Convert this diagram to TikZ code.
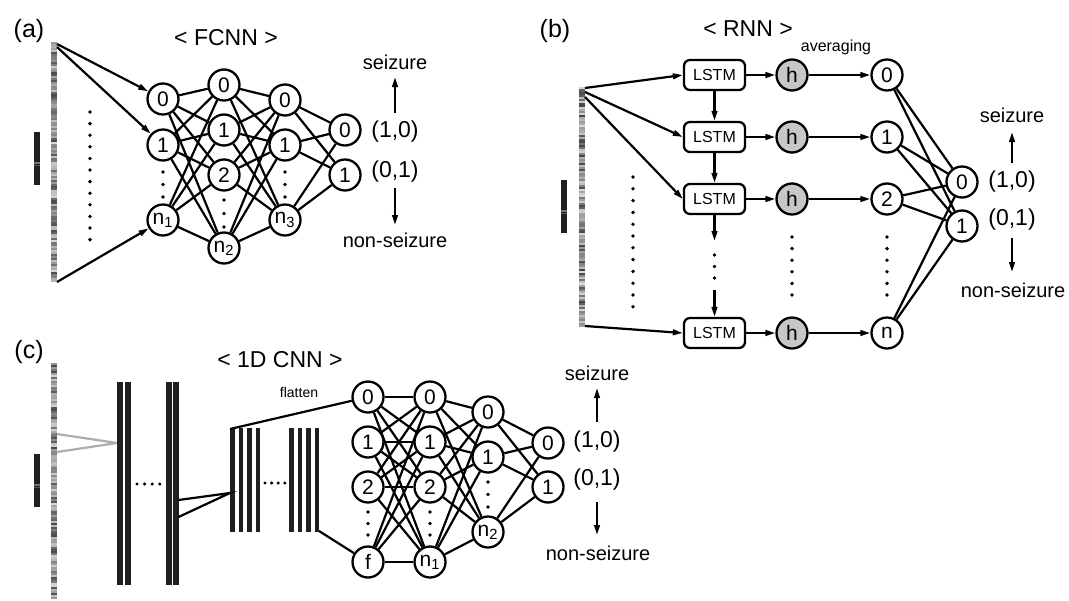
\documentclass[tikz,border=0pt]{standalone}
\usepackage{fontspec}
\setmainfont{Liberation Sans}
\usetikzlibrary{arrows.meta}

% striped EEG-like input strip: x, top, bottom
\newcommand\eegstrip[3]{%
  \pgfmathtruncatemacro\nst{(#3-#2)/2-1}%
  \foreach \k in {0,...,\nst}{%
    \pgfmathrandominteger\g{15}{72}%
    \fill[black!\g] (#1,#2+2*\k) rectangle (#1+6,#2+2*\k+2);}}
% dark marker bar beside a strip: x, top, bottom
\newcommand\markbar[3]{%
  \fill[black!88] (#1,#2) rectangle (#1+6,#3);
  \fill[black!55] (#1,{#2+0.57*(#3-#2)}) rectangle (#1+6,{#2+0.57*(#3-#2)+2});
  \fill[black!65] (#1,{#2+0.63*(#3-#2)}) rectangle (#1+6,{#2+0.63*(#3-#2)+1});}
% vertical column of dots: x, first y, step, count
\newcommand\dotcol[4]{%
  \foreach \k in {1,...,#4}{\fill (#1,{#2+(\k-1)*#3}) circle[radius=0.95pt];}}
\newcommand\dotrow[4]{%
  \foreach \k in {1,...,#4}{\fill ({#1+(\k-1)*#3},#2) circle[radius=0.85pt];}}

\begin{document}
\begin{tikzpicture}[x=0.5pt,y=-0.5pt,
  neuron/.style={circle,draw,line width=1.15pt,minimum size=15.5pt,inner sep=0pt,
    font=\fontsize{10.5}{11}\selectfont},
  hid/.style={neuron,fill=black!22},
  cell/.style={draw,rounded corners=3pt,line width=1.15pt,minimum width=30.5pt,
    minimum height=15pt,inner sep=0pt,font=\fontsize{8}{9}\selectfont},
  link/.style={line width=1.1pt},
  arr/.style={line width=1.1pt,-{Triangle[length=5pt,width=2.8pt]}},
  panel/.style={font=\fontsize{12.5}{13}\selectfont,inner sep=0pt},
  heading/.style={font=\fontsize{11.5}{12}\selectfont,inner sep=0pt},
  cls/.style={font=\fontsize{10}{11}\selectfont,inner sep=0pt},
  code/.style={font=\fontsize{11.5}{12}\selectfont,inner sep=0pt},
  note/.style={font=\fontsize{7}{8}\selectfont,inner sep=0pt},
  bar/.style={fill=black!88}
]
\useasboundingbox (0,0) rectangle (1069,600);
\fill[white] (0,0) rectangle (1069,600);
\pgfmathsetseed{4}

% ---------------- (a) fully connected network ----------------
\node[panel] (pa) at (29,31) {(a)};
\node[heading] (ta) at (226,38) {< FCNN >};
\eegstrip{51}{42}{283}
\markbar{34}{132}{185}
\coordinate (ia0) at (57,44);
\coordinate (ia1) at (57,47);
\coordinate (ia2) at (57,282);
\dotcol{90}{112}{11.6}{12}

\node[neuron] (a10) at (163,99) {0};
\node[neuron] (a11) at (163,145) {1};
\node[neuron] (a1n) at (163,220) {n\textsubscript{1}};
\dotcol{163}{172}{12.5}{3}
\node[neuron] (a20) at (224,85) {0};
\node[neuron] (a21) at (224,130) {1};
\node[neuron] (a22) at (224,175) {2};
\node[neuron] (a2n) at (224,248) {n\textsubscript{2}};
\dotcol{224}{200}{13.5}{3}
\node[neuron] (a30) at (285,100) {0};
\node[neuron] (a31) at (285,145) {1};
\node[neuron] (a3n) at (285,220) {n\textsubscript{3}};
\dotcol{285}{172}{12.5}{3}
\node[neuron] (a40) at (345,130) {0};
\node[neuron] (a41) at (345,175) {1};

\draw[arr] (ia0) -- (a10);
\draw[arr] (ia1) -- (a11);
\draw[arr] (ia2) -- (a1n);
\foreach \s in {a10,a11,a1n}
  \foreach \t in {a20,a21,a22,a2n} \draw[link] (\s) -- (\t);
\foreach \s in {a20,a21,a22,a2n}
  \foreach \t in {a30,a31,a3n} \draw[link] (\s) -- (\t);
\foreach \s in {a30,a31,a3n}
  \foreach \t in {a40,a41} \draw[link] (\s) -- (\t);

\node[cls] (sza) at (395,62) {seizure};
\node[code] (ya0) at (395,132) {(1,0)};
\node[code] (ya1) at (395,172) {(0,1)};
\node[cls] (nsa) at (395,240) {non-seizure};
\coordinate (ua0) at (395,113); \coordinate (ua1) at (395,77);
\coordinate (da0) at (395,188); \coordinate (da1) at (395,225);
\draw[arr] (ua0) -- (ua1);
\draw[arr] (da0) -- (da1);

% ---------------- (b) recurrent network ----------------
\node[panel] (pb) at (555,31) {(b)};
\node[heading] (tb) at (748,29) {< RNN >};
\node[note,font=\fontsize{8}{9}\selectfont] (avg) at (836,47) {averaging};
\eegstrip{579}{87}{327}
\markbar{561}{180}{233}
\coordinate (ib0) at (585,88);
\coordinate (ib1) at (585,92);
\coordinate (ib2) at (585,97);
\coordinate (ib3) at (585,326);
\dotcol{633}{177}{11.8}{12}

\node[cell] (l1) at (714.5,75) {LSTM};
\node[cell] (l2) at (714.5,137) {LSTM};
\node[cell] (l3) at (714.5,199) {LSTM};
\node[cell] (l4) at (714.5,333) {LSTM};
\node[hid] (h1) at (792,75) {h};
\node[hid] (h2) at (792,137) {h};
\node[hid] (h3) at (792,199) {h};
\node[hid] (h4) at (792,333) {h};
\node[neuron] (o0) at (887,75) {0};
\node[neuron] (o1) at (887,137) {1};
\node[neuron] (o2) at (887,199) {2};
\node[neuron] (on) at (887,333) {n};
\node[neuron] (r0) at (962,182) {0};
\node[neuron] (r1) at (962,226) {1};
\dotcol{792}{237}{11.6}{6}
\dotcol{887}{237}{11.6}{6}
\dotcol{714.5}{255}{11.5}{3}

\draw[arr] (ib0) -- (l1.west);
\draw[arr] (ib1) -- (l2.west);
\draw[arr] (ib2) -- (l3.west);
\draw[arr] (ib3) -- (l4.west);
\draw[arr] (l1) -- (l2);
\draw[arr] (l2) -- (l3);
\coordinate (lm0) at (714.5,241);
\coordinate (lm1) at (714.5,290);
\draw[arr] (l3) -- (lm0);
\draw[arr] (lm1) -- (l4);
\foreach \i in {1,2,3,4} \draw[arr] (l\i) -- (h\i);
\draw[arr] (h1) -- (o0);
\draw[arr] (h2) -- (o1);
\draw[arr] (h3) -- (o2);
\draw[arr] (h4) -- (on);
\foreach \s in {o0,o1,o2,on}
  \foreach \t in {r0,r1} \draw[link] (\s) -- (\t);

\node[cls] (szb) at (1012,115) {seizure};
\node[code] (yb0) at (1012,182) {(1,0)};
\node[code] (yb1) at (1012,220) {(0,1)};
\node[cls] (nsb) at (1013,290) {non-seizure};
\coordinate (ub0) at (1012,163); \coordinate (ub1) at (1012,132);
\coordinate (db0) at (1012,238); \coordinate (db1) at (1012,272);
\draw[arr] (ub0) -- (ub1);
\draw[arr] (db0) -- (db1);

% ---------------- (c) 1D convolutional network ----------------
\node[panel] (pc) at (29,352) {(c)};
\node[heading] (tc) at (280,360) {< 1D CNN >};
\node[note] (flt) at (299,392) {flatten};
\eegstrip{51}{363}{600}
\markbar{34}{454}{507}
\coordinate (ic0) at (57,434);
\coordinate (ic1) at (57,452);
\coordinate (k1) at (117,443);
\draw[link,black!32] (ic0) -- (k1) -- (ic1);

% first convolution stage: paired feature maps
\foreach \x in {117,125,166,173} \fill[bar] (\x,382) rectangle (\x+5.5,585);
\dotrow{137}{484}{7.6}{4}
% deeper stage: groups of four thinner maps
\foreach \x in {230,238.5,247,255.5,289,297.5,306,314.5}
  \fill[bar] (\x,428) rectangle (\x+4.5,532);
\dotrow{265}{483}{6.6}{4}
\coordinate (k2a) at (178.5,500);
\coordinate (k2b) at (178.5,517);
\coordinate (k3) at (230,493);
\draw[link] (k2a) -- (k3) -- (k2b);
\coordinate (k4) at (230,429);
\coordinate (k5) at (319,531);

\node[neuron] (c0) at (368,397) {0};
\node[neuron] (c1) at (368,442) {1};
\node[neuron] (c2) at (368,487) {2};
\node[neuron] (cf) at (368,562) {f};
\dotcol{368}{512}{11.5}{3}
\node[neuron] (d0) at (430,397) {0};
\node[neuron] (d1) at (430,442) {1};
\node[neuron] (d2) at (430,487) {2};
\node[neuron] (dn) at (430,562) {n\textsubscript{1}};
\dotcol{430}{512}{11.5}{3}
\node[neuron] (e0) at (488,412) {0};
\node[neuron] (e1) at (488,457) {1};
\node[neuron] (en) at (488,532) {n\textsubscript{2}};
\dotcol{488}{482}{12.5}{3}
\node[neuron] (g0) at (548,443) {0};
\node[neuron] (g1) at (548,487) {1};

\draw[link] (k4) -- (c0);
\draw[link] (k5) -- (cf);
\foreach \s in {c0,c1,c2,cf}
  \foreach \t in {d0,d1,d2,dn} \draw[link] (\s) -- (\t);
\foreach \s in {d0,d1,d2,dn}
  \foreach \t in {e0,e1,en} \draw[link] (\s) -- (\t);
\foreach \s in {e0,e1,en}
  \foreach \t in {g0,g1} \draw[link] (\s) -- (\t);

\node[cls] (szc) at (597,373) {seizure};
\node[code] (yc0) at (597,442) {(1,0)};
\node[code] (yc1) at (597,480) {(0,1)};
\node[cls] (nsc) at (598,553) {non-seizure};
\coordinate (uc0) at (597,422); \coordinate (uc1) at (597,388);
\coordinate (dc0) at (597,502); \coordinate (dc1) at (597,535);
\draw[arr] (uc0) -- (uc1);
\draw[arr] (dc0) -- (dc1);
\end{tikzpicture}
\end{document}
